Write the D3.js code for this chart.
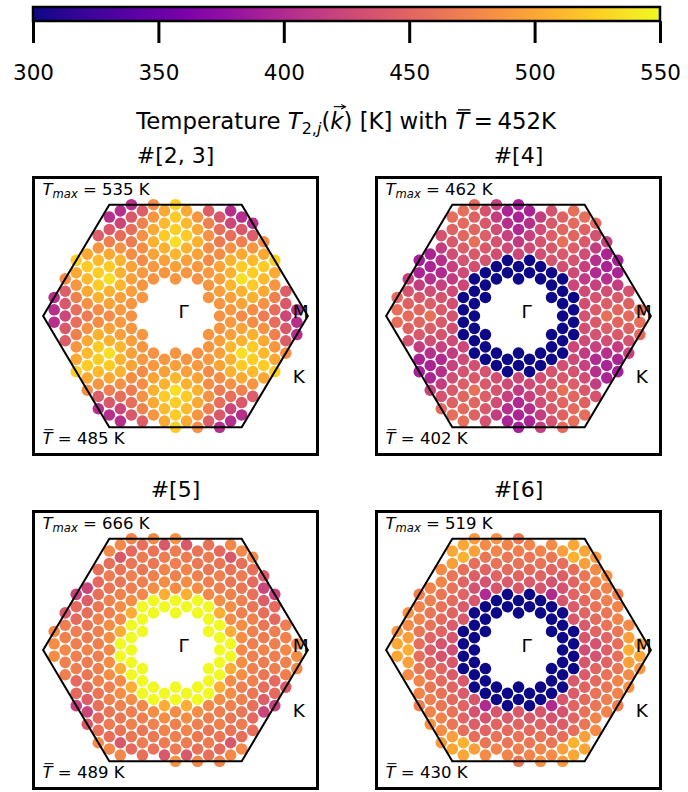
<!DOCTYPE html>
<html><head><meta charset="utf-8">
<script src="https://cdnjs.cloudflare.com/ajax/libs/d3/7.8.5/d3.min.js"></script>
<style>body{margin:0;background:#fff;} svg{display:block;font-family:"DejaVu Sans",sans-serif;}</style>
</head><body><svg id="c" width="688" height="792"></svg>
<script>
// ---------------- data ----------------
const colorTicks = [300, 350, 400, 450, 500, 550];
const panelTitles = ["#[2, 3]", "#[4]", "#[5]", "#[6]"];
const tMaxValues = [535, 462, 666, 519];
const tMeanValues = [485, 402, 489, 430];
const overallMean = 452;
const gridN = 18;          // k-grid N x N (hexagonal reciprocal lattice)
const holeMinSq = 9;       // k-points with |k|^2 < 9 (grid units) are not shown
// quadrant columns (kx >= 0, ky >= 0): column j, rows r2 = 2*ky (grid units) starting here, step 2
const colR2Start = [6, 7, 6, 3, 0, 1, 0, 1, 0, 1, 0, 1];
// temperatures [K] per quadrant column (mirror-symmetric in kx and ky)
const tempP1 = [
  [488,495,510,535,525,522,525],
  [488,495,508,522,512,502],
  [485,490,498,508,502,488,482],
  [488,488,490,480,482,485,472,445],
  [485,488,495,495,498,482,468,458,440,405],
  [490,495,510,508,508,485,458,425,405],
  [480,498,508,535,522,502,472,440,405],
  [482,508,522,525,512,488,445,405],
  [468,485,502,512,522,502,482],
  [458,472,488,502,525],
  [425,440,445,482],
  [405,405]];
const tempP2 = [
  [250,250,425,415,400,395,390],
  [250,250,428,420,405,395],
  [250,250,432,435,430,418,420],
  [250,250,250,435,440,445,440,435],
  [250,250,250,250,432,440,460,452,448,455],
  [250,250,425,428,435,445,452,455,458],
  [435,432,428,415,420,430,440,448,458],
  [440,435,420,400,405,418,435,455],
  [460,445,430,405,395,395,420],
  [452,440,418,395,390],
  [455,448,435,420],
  [458,455]];
const tempP3 = [
  [620,620,480,472,470,468,485],
  [620,505,482,475,468,440],
  [620,620,482,472,466,462,478],
  [620,620,620,478,470,465,468,460],
  [620,620,620,505,482,470,472,465,455,475],
  [620,505,480,482,472,465,462,440,478],
  [478,482,482,470,472,465,468,458,478],
  [470,472,472,465,460,455,460,478],
  [475,468,465,458,445,425,440],
  [470,470,455,455,420],
  [478,472,470,440],
  [482,478]];
const tempP4 = [
  [250,250,440,450,462,470,465],
  [250,250,442,455,465,475],
  [250,250,438,450,462,475,485],
  [250,250,250,400,435,450,465,480],
  [250,250,250,250,438,435,445,458,495,490],
  [250,250,440,442,450,450,458,508,500],
  [430,438,442,450,455,462,465,495,500],
  [435,450,455,462,465,475,480,490],
  [445,450,462,465,470,475,485],
  [458,465,475,475,470],
  [505,495,480,485],
  [500,490]];
const panelTemps = [tempP1, tempP2, tempP3, tempP4];

// ---------------- layout ----------------
const svg = d3.select("#c");
const FONT = '"DejaVu Sans", sans-serif';
const color = d3.scaleSequential(d3.interpolatePlasma).domain([300, 550]).clamp(true);

// colorbar
const cb = {x0: 33, x1: 660, y0: 7, y1: 21};
const cbScale = d3.scaleLinear().domain([300, 550]).range([cb.x0, cb.x1]);
const grad = svg.append("defs").append("linearGradient").attr("id", "cbg");
d3.range(0, 1.0001, 0.05).forEach(f => grad.append("stop").attr("offset", f).attr("stop-color", d3.interpolatePlasma(f)));
svg.append("rect").attr("x", cb.x0).attr("y", cb.y0).attr("width", cb.x1 - cb.x0).attr("height", cb.y1 - cb.y0)
  .attr("fill", "url(#cbg)").attr("stroke", "#000").attr("stroke-width", 2.5);
const cbAxis = svg.append("g").attr("transform", `translate(0,${cb.y1})`)
  .call(d3.axisBottom(cbScale).tickValues(colorTicks).tickSize(22).tickPadding(22));
cbAxis.select(".domain").remove();
cbAxis.selectAll(".tick line").attr("stroke-width", 3);
cbAxis.selectAll(".tick text").attr("font-size", 21.5).attr("font-family", FONT).attr("fill", "#000");

// math-like text helper
function mathText(parent, x, y, segs, fs, anchor) {
  const t = parent.append("text").attr("x", x).attr("y", y).attr("font-size", fs)
    .attr("text-anchor", anchor || "start").attr("font-family", FONT).attr("fill", "#000");
  let idx = 0, cur = 0; const marks = [];
  segs.forEach(s => {
    const sh = s.sub ? fs * 0.22 : 0;
    const sp = t.append("tspan").text(s.t).attr("dy", sh - cur);
    cur = sh;
    if (s.it) sp.attr("font-style", "italic");
    if (s.sub) sp.attr("font-size", fs * 0.7);
    if (s.over) marks.push({idx, type: "over"});
    if (s.arrow) marks.push({idx, type: "arrow"});
    idx += s.t.length;
  });
  marks.forEach(m => {
    const e = t.node().getExtentOfChar(m.idx);
    if (m.type === "over") {
      parent.append("line").attr("x1", e.x + fs * 0.12).attr("x2", e.x + e.width + fs * 0.05)
        .attr("y1", y - fs * 0.84).attr("y2", y - fs * 0.84).attr("stroke", "#000").attr("stroke-width", fs * 0.06);
    } else {
      const ya = y - fs * 0.98, xa0 = e.x + fs * 0.15, xa1 = e.x + e.width + fs * 0.08;
      parent.append("line").attr("x1", xa0).attr("x2", xa1).attr("y1", ya).attr("y2", ya)
        .attr("stroke", "#000").attr("stroke-width", fs * 0.05);
      parent.append("path").attr("d", `M${xa1 - fs * 0.18},${ya - fs * 0.1} L${xa1},${ya} L${xa1 - fs * 0.18},${ya + fs * 0.1}`)
        .attr("fill", "none").attr("stroke", "#000").attr("stroke-width", fs * 0.05);
    }
  });
  return t;
}

mathText(svg, 346, 129, [
  {t: "Temperature "}, {t: "T", it: true}, {t: "2,", sub: true}, {t: "j", sub: true, it: true},
  {t: "("}, {t: "k", it: true, arrow: true}, {t: ") [K] with "}, {t: "T", it: true, over: true},
  {t: "\u2009=\u2009" + overallMean + "K"}
], 22.8, "middle");

// k-point set (hexagonal grid folded in the first Brillouin zone)
const S3 = Math.sqrt(3);
function buildKPoints() {
  const pts = [];
  const normals = [90, 30, -30];
  for (let i = -20; i <= 20; i++) for (let j = -20; j <= 20; j++) {
    const P = [2 * i + j, i + 2 * j, j - i];
    if (P.some(p => Math.abs(p) > gridN)) continue;
    if (i * i + j * j + i * j < holeMinSq) continue;
    const x = j * S3 / 2, y = i + j / 2;
    const th = Math.atan2(y, x) * 180 / Math.PI;
    let ok = true;
    P.forEach((p, n) => {
      if (Math.abs(p) === gridN) {
        const phi = p > 0 ? normals[n] : normals[n] + 180;
        const d = ((th - phi) % 360 + 540) % 360 - 180;
        if (!(d > -1e-6 && d < 30 - 1e-6)) ok = false;
      }
    });
    if (!ok) continue;
    const col = Math.abs(j), r2 = Math.abs(2 * i + j);
    pts.push({x, y, col, row: (r2 - colR2Start[col]) / 2});
  }
  return pts;
}
const kPoints = buildKPoints();
const Rhex = gridN / S3;
const hexVerts = d3.range(6).map(k => [Rhex * Math.cos(k * Math.PI / 3), Rhex * Math.sin(k * Math.PI / 3)]);

const boxes = [
  {x0: 33.5, x1: 317.5, y0: 177.5, y1: 454.5},
  {x0: 376.5, x1: 660.5, y0: 177.5, y1: 454.5},
  {x0: 33.5, x1: 317.5, y0: 511.5, y1: 788.5},
  {x0: 376.5, x1: 660.5, y0: 511.5, y1: 788.5}
];
const xLim = 11.15, yLim = 11.2;

boxes.forEach((b, p) => {
  const g = svg.append("g");
  const sx = d3.scaleLinear().domain([-xLim, xLim]).range([b.x0, b.x1]);
  const sy = d3.scaleLinear().domain([-yLim, yLim]).range([b.y1, b.y0]);
  const temps = panelTemps[p];
  g.selectAll("circle").data(kPoints).join("circle")
    .attr("cx", d => sx(d.x)).attr("cy", d => sy(d.y)).attr("r", 5.8)
    .attr("fill", d => color(temps[d.col][d.row]));
  g.append("path").attr("d", d3.line().x(d => sx(d[0])).y(d => sy(d[1])).curve(d3.curveLinearClosed)(hexVerts))
    .attr("fill", "none").attr("stroke", "#000").attr("stroke-width", 2);
  g.append("rect").attr("x", b.x0).attr("y", b.y0).attr("width", b.x1 - b.x0).attr("height", b.y1 - b.y0)
    .attr("fill", "none").attr("stroke", "#000").attr("stroke-width", 3);
  const cx = sx(0), cy = sy(0);
  g.append("text").attr("x", cx + 3).attr("y", cy + 2).attr("font-size", 18.5).attr("font-family", FONT).text("Γ");
  g.append("text").attr("x", sx(Rhex) - 15).attr("y", cy + 2).attr("font-size", 18.5).attr("font-family", FONT).text("M");
  g.append("text").attr("x", sx(Rhex) - 15).attr("y", cy + 67).attr("font-size", 18.5).attr("font-family", FONT).text("K");
  svg.append("text").attr("x", (b.x0 + b.x1) / 2).attr("y", b.y0 - 15).attr("text-anchor", "middle")
    .attr("font-size", 22).attr("font-family", FONT).text(panelTitles[p]);
  mathText(g, b.x0 + 9, b.y0 + 17, [{t: "T", it: true}, {t: "max", it: true, sub: true}, {t: " = " + tMaxValues[p] + " K"}], 16.5);
  mathText(g, b.x0 + 9, b.y1 - 11, [{t: "T", it: true, over: true}, {t: " = " + tMeanValues[p] + " K"}], 16.5);
});
</script></body></html>
